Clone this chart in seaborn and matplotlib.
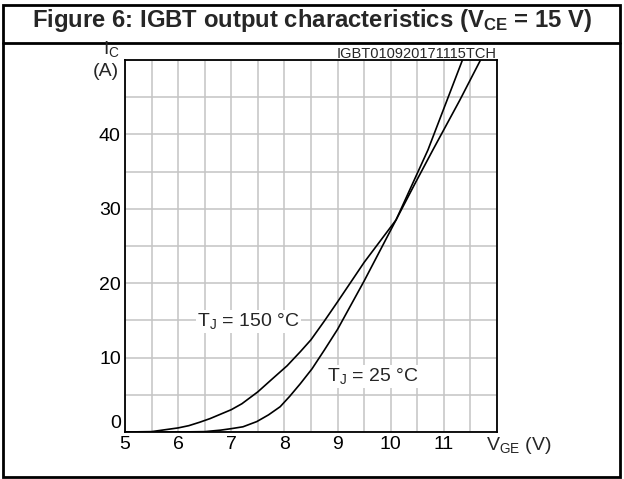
import matplotlib
matplotlib.use("Agg")
import matplotlib.pyplot as plt
import seaborn as sns
import numpy as np
import pandas as pd
from matplotlib.patches import Rectangle
from matplotlib.lines import Line2D

# ---- data ----
v_25 = [5.0, 6.0, 6.5, 6.8, 7.0, 7.22, 7.48, 7.7, 7.92, 8.1, 8.3, 8.52, 8.75, 9.0, 9.5, 10.1, 10.7, 11.06, 11.35]
i_25 = [0.0, 0.0, 0.05, 0.25, 0.45, 0.7, 1.4, 2.3, 3.4, 4.8, 6.5, 8.5, 11.0, 13.8, 20.3, 28.5, 37.9, 44.6, 50.0]
v_150 = [5.0, 5.5, 5.8, 6.0, 6.2, 6.4, 6.6, 6.8, 7.0, 7.2, 7.5, 7.75, 8.05, 8.3, 8.5, 8.75, 9.0, 9.5, 10.1, 10.45, 10.8, 11.3, 11.69]
i_150 = [0.0, 0.05, 0.35, 0.55, 0.85, 1.3, 1.8, 2.4, 3.0, 3.8, 5.4, 7.0, 8.9, 10.8, 12.4, 14.9, 17.5, 22.8, 28.5, 33.3, 38.0, 44.6, 50.0]
x_ticks = [5, 6, 7, 8, 9, 10, 11]
y_ticks = [0, 10, 20, 30, 40]

title = "Figure 6: IGBT output characteristics (V$\\mathbf{_{CE}}$ = 15 V)"
code = "IGBT010920171115TCH"

sns.set_style("white")
plt.rcParams['font.family'] = ['Liberation Sans', 'DejaVu Sans']
plt.rcParams['mathtext.fontset'] = 'custom'
plt.rcParams['mathtext.rm'] = 'Liberation Sans'
plt.rcParams['mathtext.bf'] = 'Liberation Sans:bold'
plt.rcParams['mathtext.it'] = 'Liberation Sans:italic'

W, H = 624, 479
fig = plt.figure(figsize=(W / 100, H / 100), dpi=100)

def fx(px):
    return px / W

def fy(py):
    return 1 - py / H

ax = fig.add_axes([fx(125), fy(432), (497 - 125) / W, (432 - 60) / H])

df = pd.concat([
    pd.DataFrame({"V": v_25, "I": i_25, "Tj": "25"}),
    pd.DataFrame({"V": v_150, "I": i_150, "Tj": "150"}),
])
sns.lineplot(data=df, x="V", y="I", hue="Tj", palette={"25": "black", "150": "black"},
             linewidth=1.2, legend=False, ax=ax, sort=False, estimator=None)

grid_x = np.arange(5, 12.01, 0.5)
grid_y = np.arange(0, 50.01, 5)
ax.set_xlim(5, 12)
ax.set_ylim(0, 50)
ax.set_xticks(grid_x)
ax.set_xticklabels([str(int(v)) if v in x_ticks else "" for v in grid_x])
ax.set_yticks(grid_y)
ax.set_yticklabels([str(int(v)) if v in y_ticks else "" for v in grid_y])
ax.grid(True, color="#c4c4c4", linewidth=1.1)
ax.set_axisbelow(True)
ax.tick_params(length=0, labelsize=14, pad=3, colors="black")
ax.set_xlabel("")
ax.set_ylabel("")
for s in ax.spines.values():
    s.set_visible(True)
    s.set_color("black")
    s.set_linewidth(1.3)
for lab in ax.get_yticklabels():
    if lab.get_text() == "0":
        lab.set_verticalalignment("bottom")

# curve labels
ax.text(6.36, 14.9, "T$_\\mathregular{J}$ = 150 °C", fontsize=14, va="center", ha="left",
        bbox=dict(facecolor="white", edgecolor="none", pad=1))
ax.text(8.8, 7.5, "T$_\\mathregular{J}$ = 25 °C", fontsize=14, va="center", ha="left",
        bbox=dict(facecolor="white", edgecolor="none", pad=1))

# axis labels
fig.text(fx(486), fy(446), "V$_\\mathregular{GE}$ (V)", fontsize=14, ha="left", va="center")
fig.text(fx(119), fy(72), "(A)", fontsize=14, ha="right", va="center")
fig.text(fx(103), fy(49), "I$_\\mathregular{C}$", fontsize=14, ha="left", va="center")
fig.text(fx(497), fy(60.5), code, fontsize=10.5, ha="right", va="bottom")

# title and frame
fig.text(fx(32), fy(21), title, fontsize=17.2, fontweight="bold", ha="left", va="center")
fig.add_artist(Rectangle((fx(2.5), fy(477)), (620 - 2.5) / W, (477 - 4.5) / H,
                         transform=fig.transFigure, fill=False, edgecolor="black", linewidth=2))
fig.add_artist(Line2D([fx(2.5), fx(620)], [fy(42.5), fy(42.5)], transform=fig.transFigure,
                      color="black", linewidth=2))

fig.savefig("out.png", dpi=100)
